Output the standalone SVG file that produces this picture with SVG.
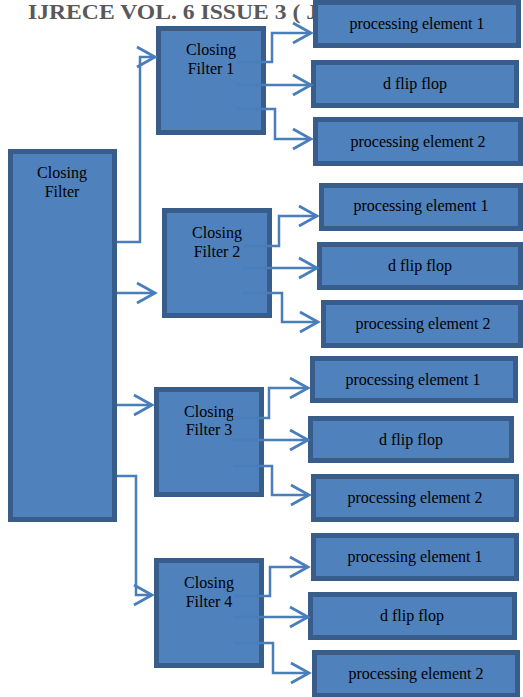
<svg xmlns="http://www.w3.org/2000/svg" width="523" height="697" viewBox="0 0 523 697">
<defs>
<style>
.box{fill:#4F81BD;stroke:#385D8A;stroke-width:5}
.t{font-family:"Liberation Serif","Times New Roman",serif;font-size:16px;fill:#000;text-anchor:middle}
.c{fill:none;stroke:#4A7EBB;stroke-width:2.5;marker-end:url(#arr)}
.hdr{font-family:"Liberation Serif","Times New Roman",serif;font-weight:bold;font-size:21px;fill:#595959}
</style>
<marker id="arr" markerUnits="userSpaceOnUse" markerWidth="24" markerHeight="24" viewBox="-21 -12 24 24" refX="0" refY="0" orient="auto" overflow="visible">
<path d="M-18,-10 L0,0 L-18,10" fill="none" stroke="#4A7EBB" stroke-width="2.8"/>
</marker>
</defs>
<text class="hdr" x="28" y="18.5" textLength="290" lengthAdjust="spacingAndGlyphs">IJRECE VOL. 6 ISSUE 3 ( J</text>

<g id="main">
<rect class="box" x="10.5" y="151.5" width="104" height="368"/>
<text class="t" x="62" y="178">Closing</text>
<text class="t" x="62" y="197">Filter</text>
</g>

<g id="filter1">
<rect class="box" x="158.5" y="28.5" width="105" height="104"/>
<text class="t" x="211" y="55">Closing</text>
<text class="t" x="211" y="74">Filter 1</text>
</g>
<g id="filter2">
<rect class="box" x="164.5" y="210.5" width="105" height="105"/>
<text class="t" x="217" y="238">Closing</text>
<text class="t" x="217" y="257">Filter 2</text>
</g>
<g id="filter3">
<rect class="box" x="156.5" y="389.5" width="105" height="105"/>
<text class="t" x="209" y="417">Closing</text>
<text class="t" x="209" y="435">Filter 3</text>
</g>
<g id="filter4">
<rect class="box" x="156.5" y="560.5" width="105" height="105"/>
<text class="t" x="209" y="588">Closing</text>
<text class="t" x="209" y="607">Filter 4</text>
</g>

<g id="pe1-1"><rect class="box" x="315.5" y="2.5" width="203" height="43"/><text class="t" x="417" y="29">processing element 1</text></g>
<g id="dff-1"><rect class="box" x="313.5" y="62.5" width="203" height="43"/><text class="t" x="415" y="89">d flip flop</text></g>
<g id="pe2-1"><rect class="box" x="315.5" y="119.5" width="205" height="44"/><text class="t" x="418" y="147">processing element 2</text></g>

<g id="pe1-2"><rect class="box" x="321.5" y="185.5" width="199" height="43"/><text class="t" x="421" y="211">processing element 1</text></g>
<g id="dff-2"><rect class="box" x="319.5" y="244.5" width="201" height="43"/><text class="t" x="420" y="271">d flip flop</text></g>
<g id="pe2-2"><rect class="box" x="323.5" y="302.5" width="197" height="43"/><text class="t" x="423" y="329">processing element 2</text></g>

<g id="pe1-3"><rect class="box" x="312.5" y="358.5" width="203" height="42"/><text class="t" x="413" y="385">processing element 1</text></g>
<g id="dff-3"><rect class="box" x="310.5" y="418.5" width="201" height="42"/><text class="t" x="411" y="445">d flip flop</text></g>
<g id="pe2-3"><rect class="box" x="313.5" y="476.5" width="203" height="43"/><text class="t" x="415" y="503">processing element 2</text></g>

<g id="pe1-4"><rect class="box" x="313.5" y="535.5" width="203" height="43"/><text class="t" x="415" y="562">processing element 1</text></g>
<g id="dff-4"><rect class="box" x="310.5" y="594.5" width="204" height="43"/><text class="t" x="412" y="621">d flip flop</text></g>
<g id="pe2-4"><rect class="box" x="314.5" y="652.5" width="203" height="43"/><text class="t" x="416" y="679">processing element 2</text></g>

<g id="connectors">
<path class="c" d="M117,242 H140 V57 H155"/>
<path class="c" d="M117,293 H155"/>
<path class="c" d="M117,405 H152"/>
<path class="c" d="M117,476 H136 V595 H152"/>

<path class="c" d="M237,62 H272 V33 H311"/>
<path class="c" d="M237,85 H311"/>
<path class="c" d="M237,109 H275 V139 H311"/>

<path class="c" d="M243,246 H279 V216 H317"/>
<path class="c" d="M243,268 H317"/>
<path class="c" d="M243,293 H282 V322 H318"/>

<path class="c" d="M233,418 H269 V388 H308"/>
<path class="c" d="M233,440 H308"/>
<path class="c" d="M233,466 H272 V495 H309"/>

<path class="c" d="M234,596 H270 V567 H308"/>
<path class="c" d="M234,617 H308"/>
<path class="c" d="M234,643 H273 V673 H309"/>
</g>
</svg>
